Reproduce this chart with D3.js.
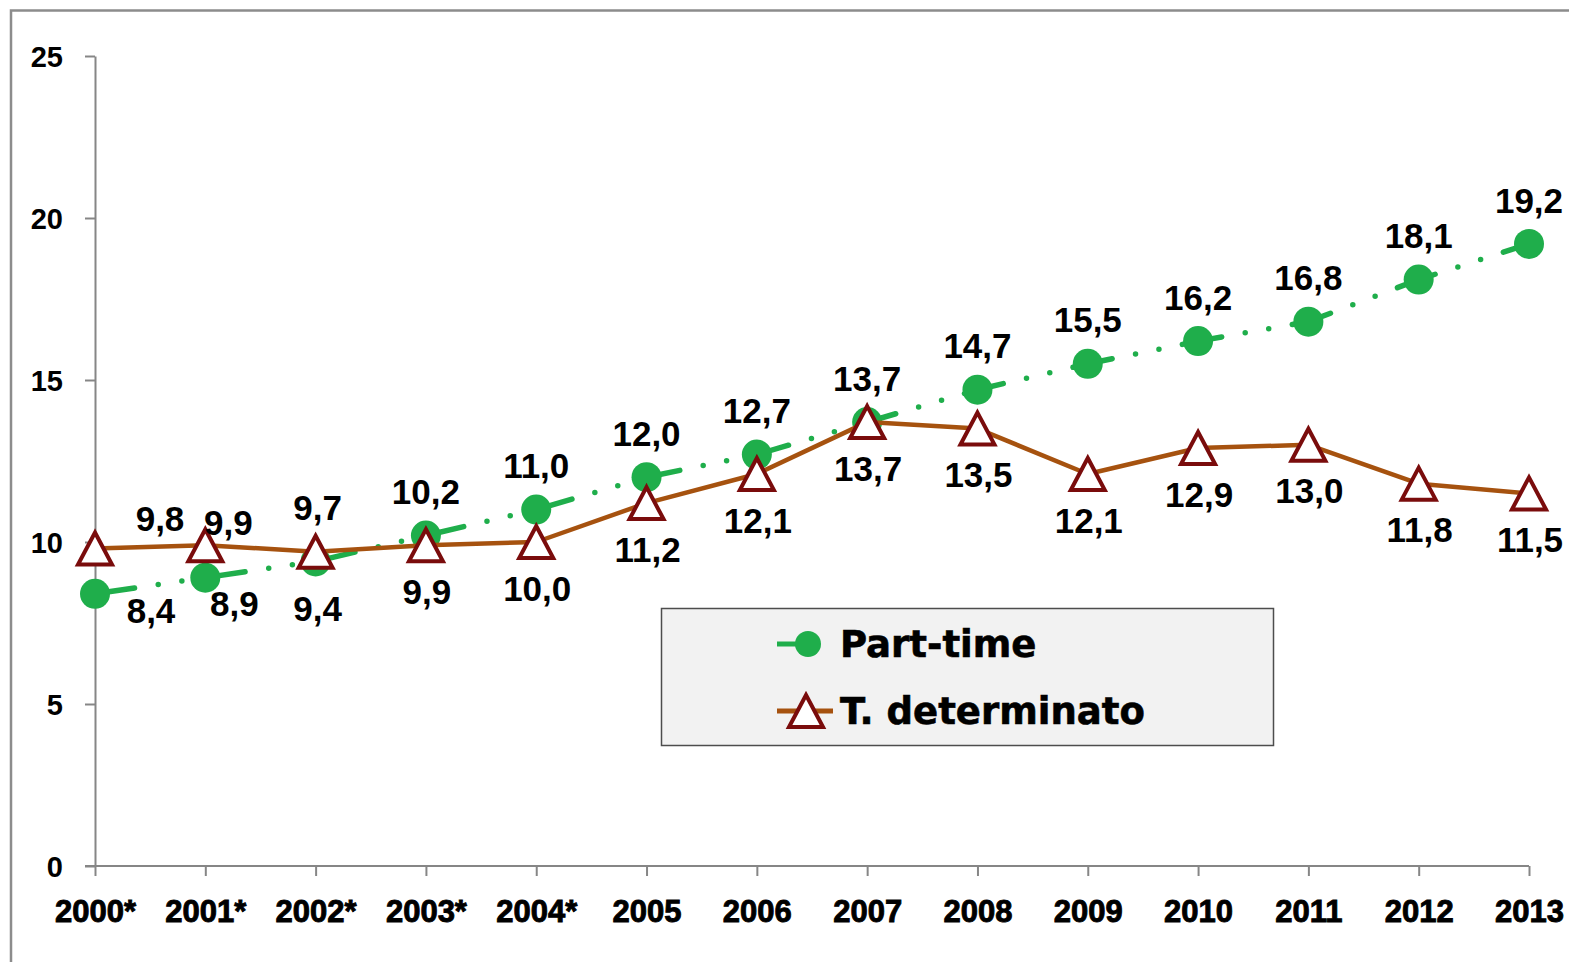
<!DOCTYPE html>
<html>
<head>
<meta charset="utf-8">
<script src="https://cdn.jsdelivr.net/npm/d3@7"></script>
<style>
  body { margin: 0; background: #fff; }
  svg { display: block; }
</style>
</head>
<body>
<div class="lineGraph"></div>
<script>
// data
let years = ['2000*', '2001*', '2002*', '2003*', '2004*', '2005', '2006', '2007', '2008', '2009', '2010', '2011', '2012', '2013'];
let partTime = [8.4, 8.9, 9.4, 10.2, 11.0, 12.0, 12.7, 13.7, 14.7, 15.5, 16.2, 16.8, 18.1, 19.2];
let tempoDet = [9.8, 9.9, 9.7, 9.9, 10.0, 11.2, 12.1, 13.7, 13.5, 12.1, 12.9, 13.0, 11.8, 11.5];
let yTicks = [0, 5, 10, 15, 20, 25];
let seriesNames = ['Part-time', 'T. determinato'];

let width = 1569;
let height = 962;

let green = '#1fae4b';
let brown = '#a6520f';
let darkRed = '#7a0c0c';

let svg = d3.select('.lineGraph')
  .append('svg')
  .attr('width', width)
  .attr('height', height);

// chart area frame (runs off the right and bottom of the picture)
svg.append('rect')
  .attr('x', 11).attr('y', 10.5)
  .attr('width', 1700).attr('height', 1100)
  .attr('fill', 'none')
  .attr('stroke', '#8c8c8c')
  .attr('stroke-width', 2.5);

let xScale = d3.scalePoint()
  .domain(years)
  .range([95, 1529]);

let yScale = d3.scaleLinear()
  .domain([0, 25])
  .range([866, 56]);

function fmt(v) {
  return v.toFixed(1).replace('.', ',');
}

// axes
let yAxis = svg.append('g')
  .attr('transform', 'translate(95,0)')
  .call(d3.axisLeft(yScale).tickValues(yTicks).tickSize(10).tickSizeOuter(0).tickFormat(d3.format('d')));

yAxis.select('.domain').attr('stroke', '#868686').attr('stroke-width', 2);
yAxis.selectAll('.tick line').attr('stroke', '#868686').attr('stroke-width', 2);
yAxis.selectAll('.tick text')
  .attr('x', -32)
  .attr('dy', '0.36em')
  .attr('fill', '#000')
  .style('font-family', '"Liberation Sans", Arial, sans-serif')
  .style('font-weight', 'bold')
  .style('font-size', '29px');

let xAxis = svg.append('g')
  .attr('transform', 'translate(0,866)')
  .call(d3.axisBottom(xScale).tickSize(10).tickSizeOuter(0));

xAxis.select('.domain').attr('d', 'M85,0H' + xScale(years[years.length - 1]))
  .attr('stroke', '#868686').attr('stroke-width', 2);
xAxis.selectAll('.tick line').attr('stroke', '#868686').attr('stroke-width', 2);
xAxis.selectAll('.tick text')
  .attr('y', 56)
  .attr('dy', 0)
  .attr('fill', '#000')
  .attr('stroke', '#000')
  .attr('stroke-width', 0.9)
  .style('font-family', '"Liberation Sans", Arial, sans-serif')
  .style('font-weight', 'bold')
  .style('font-size', '31px');

let line = d3.line()
  .x(function(d, i) { return xScale(years[i]); })
  .y(function(d) { return yScale(d); });

// part-time: long dash / dot / dot
svg.append('path')
  .datum(partTime)
  .attr('d', line)
  .attr('fill', 'none')
  .attr('stroke', green)
  .attr('stroke-width', 5.5)
  .attr('stroke-linecap', 'round')
  .attr('stroke-dasharray', '40 23.9 0 23.9 0 23.9');

svg.selectAll('.ptDot')
  .data(partTime)
  .enter().append('circle')
  .attr('class', 'ptDot')
  .attr('cx', function(d, i) { return xScale(years[i]); })
  .attr('cy', function(d) { return yScale(d); })
  .attr('r', 15)
  .attr('fill', green);

// tempo determinato
svg.append('path')
  .datum(tempoDet)
  .attr('d', line)
  .attr('fill', 'none')
  .attr('stroke', brown)
  .attr('stroke-width', 4.5)
  .attr('stroke-linejoin', 'round');

let tri = 'M0,-16L17,16L-17,16Z';

svg.selectAll('.tdMark')
  .data(tempoDet)
  .enter().append('path')
  .attr('class', 'tdMark')
  .attr('d', tri)
  .attr('transform', function(d, i) {
    return 'translate(' + xScale(years[i]) + ',' + yScale(d) + ')';
  })
  .attr('fill', '#fff')
  .attr('stroke', darkRed)
  .attr('stroke-width', 4)
  .attr('stroke-linejoin', 'miter');

// label offsets (text centre relative to the point)
function ptOffset(i) {
  if (i === 0) return [56, 17];
  if (i === 1) return [29, 26];
  if (i === 2) return [2, 47];
  return [0, -44];
}
function tdOffset(i) {
  if (i === 0) return [65, -30];
  if (i === 1) return [23, -23];
  if (i === 2) return [2, -44];
  return [1, 46];
}

function addLabels(data, cls, offset) {
  svg.selectAll('.' + cls)
    .data(data)
    .enter().append('text')
    .attr('class', cls)
    .attr('x', function(d, i) { return xScale(years[i]) + offset(i)[0]; })
    .attr('y', function(d, i) { return yScale(d) + offset(i)[1]; })
    .attr('dy', '0.36em')
    .attr('text-anchor', 'middle')
    .style('font-family', '"Liberation Sans", Arial, sans-serif')
    .style('font-weight', 'bold')
    .style('font-size', '35px')
    .attr('fill', '#000')
    .text(fmt);
}
addLabels(partTime, 'ptLabel', ptOffset);
addLabels(tempoDet, 'tdLabel', tdOffset);

// legend
let legend = svg.append('g');
legend.append('rect')
  .attr('x', 661.5).attr('y', 608.5)
  .attr('width', 612).attr('height', 137)
  .attr('fill', '#f2f2f2')
  .attr('stroke', '#4d4d4d')
  .attr('stroke-width', 1.5);

let rows = legend.selectAll('.legendRow')
  .data(seriesNames)
  .enter().append('g')
  .attr('class', 'legendRow')
  .attr('transform', function(d, i) { return 'translate(0,' + (644 + i * 67) + ')'; });

rows.append('line')
  .attr('x1', 777).attr('x2', function(d, i) { return i === 0 ? 815 : 833; })
  .attr('y1', 0).attr('y2', 0)
  .attr('stroke', function(d, i) { return i === 0 ? green : brown; })
  .attr('stroke-width', 5);

rows.filter(function(d, i) { return i === 0; })
  .append('circle')
  .attr('cx', 808).attr('cy', 0).attr('r', 13)
  .attr('fill', green);

rows.filter(function(d, i) { return i === 1; })
  .append('path')
  .attr('d', tri)
  .attr('transform', 'translate(806,0)')
  .attr('fill', '#fff')
  .attr('stroke', darkRed)
  .attr('stroke-width', 4);

rows.append('text')
  .attr('x', 840)
  .attr('y', 0)
  .attr('dy', '0.36em')
  .style('font-family', '"DejaVu Sans", Verdana, sans-serif')
  .style('font-weight', 'bold')
  .style('font-size', '37px')
  .attr('fill', '#000')
  .attr('stroke', '#000')
  .attr('stroke-width', 0.6)
  .text(function(d) { return d; });
</script>
</body>
</html>
